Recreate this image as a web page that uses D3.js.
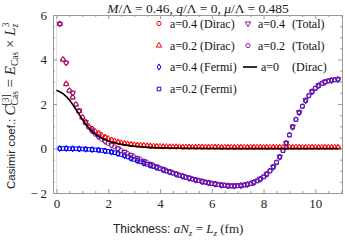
<!DOCTYPE html>
<html>
<head>
<meta charset="utf-8">
<script src="https://cdn.jsdelivr.net/npm/d3@7"></script>
<style>
  html, body { margin: 0; padding: 0; background: #fff; }
  svg text { font-family: "Liberation Serif", "Times New Roman", serif; }
</style>
</head>
<body>
<svg id="chart" width="345" height="241"></svg>
<script>
// thickness grid (fm): a=0.2 series use every point, a=0.4 series every other one
const xFine = [0.125,0.25,0.375,0.5,0.625,0.75,0.875,1,1.125,1.25,1.375,1.5,1.625,1.75,1.875,2,
  2.125,2.25,2.375,2.5,2.625,2.75,2.875,3,3.125,3.25,3.375,3.5,3.625,3.75,3.875,4,
  4.125,4.25,4.375,4.5,4.625,4.75,4.875,5,5.125,5.25,5.375,5.5,5.625,5.75,5.875,6,
  6.125,6.25,6.375,6.5,6.625,6.75,6.875,7,7.125,7.25,7.375,7.5,7.625,7.75,7.875,8,
  8.125,8.25,8.375,8.5,8.625,8.75,8.875,9,9.125,9.25,9.375,9.5,9.625,9.75,9.875,10,
  10.125,10.25,10.375,10.5,10.625,10.75,10.875];
const xCoarse = [0.125,0.375,0.625,0.875,1.125,1.375,1.625,1.875,2.125,2.375,2.625,2.875,
  3.125,3.375,3.625,3.875,4.125,4.375,4.625,4.875,5.125,5.375,5.625,5.875,6.125,6.375,
  6.625,6.875,7.125,7.375,7.625,7.875,8.125,8.375,8.625,8.875,9.125,9.375,9.625,9.875,
  10.125,10.375,10.625,10.875];

const diracA04 = [5.6,3.85,2.5,1.7,1.2,0.9,0.7,0.51,0.38,0.29,0.22,0.18,0.15,0.13,0.11,0.09,
  0.08,0.07,0.07,0.06,0.06,0.06,0.06,0.06,0.06,0.05,0.05,0.05,0.05,0.05,0.05,0.05,0.05,0.05,
  0.05,0.05,0.05,0.05,0.05,0.05,0.05,0.05,0.05,0.05];
const diracA02 = [5.6,4.0,2.9,2.6,2.3,1.98,1.68,1.4,1.17,0.99,
  0.86,0.76,0.67,0.59,0.51,0.44,0.38,0.33,0.29,0.25,
  0.22,0.2,0.18,0.16,0.15,0.14,0.13,0.12,0.11,0.1,
  0.09,0.09,0.08,0.08,0.07,0.07,0.07,0.07,0.06,0.06,
  0.06,0.06,0.06,0.06,0.06,0.06,0.06,0.06,0.06,0.06,
  0.05,0.05,0.05,0.05,0.05,0.05,0.05,0.05,0.05,0.05,
  0.05,0.05,0.05,0.05,0.05,0.05,0.05,0.05,0.05,0.05,
  0.05,0.05,0.05,0.05,0.05,0.05,0.05,0.05,0.05,0.05,
  0.05,0.05,0.05,0.05,0.05,0.05,0.05];
const fermiA04 = [0,0,-0.01,-0.02,-0.03,-0.05,-0.07,-0.11,-0.16,-0.23,
  -0.32,-0.44,-0.55,-0.66,-0.76,-0.86,-0.96,-1.06,-1.16,-1.25,
  -1.34,-1.42,-1.49,-1.55,-1.6,-1.65,-1.68,-1.69,-1.67,-1.62,
  -1.53,-1.38,-1.16,-0.84,-0.39,0.23,0.96,1.61,2.15,2.55,
  2.82,2.98,3.06,3.1];
const fermiA02 = [0,0,0,-0.01,-0.01,-0.01,-0.02,-0.02,-0.03,-0.04,
  -0.05,-0.06,-0.07,-0.09,-0.11,-0.13,-0.16,-0.19,-0.23,-0.27,
  -0.32,-0.38,-0.44,-0.49,-0.55,-0.6,-0.66,-0.71,-0.76,-0.81,
  -0.86,-0.91,-0.96,-1.02,-1.06,-1.11,-1.16,-1.21,-1.25,-1.3,
  -1.34,-1.38,-1.42,-1.45,-1.49,-1.52,-1.55,-1.58,-1.6,-1.63,
  -1.65,-1.66,-1.68,-1.69,-1.69,-1.68,-1.67,-1.65,-1.62,-1.58,
  -1.53,-1.46,-1.38,-1.28,-1.16,-1.01,-0.84,-0.63,-0.39,-0.1,
  0.23,0.6,0.96,1.3,1.61,1.89,2.15,2.37,2.55,2.7,
  2.82,2.91,2.98,3.03,3.06,3.08,3.1];
const totalA04 = [5.6,3.85,2.5,1.7,1.18,0.8,0.53,0.32,0.15,0.0,
  -0.16,-0.3,-0.44,-0.57,-0.7,-0.82,-0.93,-1.04,-1.14,-1.23,
  -1.32,-1.4,-1.47,-1.53,-1.58,-1.63,-1.66,-1.67,-1.65,-1.6,
  -1.51,-1.36,-1.14,-0.82,-0.37,0.25,0.98,1.63,2.17,2.57,
  2.84,3.0,3.08,3.12];
const totalA02 = [5.6,4.0,2.9,2.6,2.3,1.98,1.68,1.4,1.15,0.95,
  0.78,0.64,0.52,0.41,0.32,0.23,0.15,0.07,-0.01,-0.09,
  -0.16,-0.23,-0.3,-0.37,-0.44,-0.51,-0.57,-0.64,-0.7,-0.76,
  -0.82,-0.88,-0.93,-0.99,-1.04,-1.09,-1.14,-1.19,-1.23,-1.28,
  -1.32,-1.36,-1.4,-1.43,-1.47,-1.5,-1.53,-1.56,-1.58,-1.61,
  -1.63,-1.64,-1.66,-1.67,-1.67,-1.66,-1.65,-1.63,-1.6,-1.56,
  -1.51,-1.44,-1.36,-1.26,-1.14,-0.99,-0.82,-0.61,-0.37,-0.08,
  0.25,0.62,0.98,1.32,1.63,1.91,2.17,2.39,2.57,2.72,
  2.84,2.93,3.0,3.05,3.08,3.1,3.12];

// a=0 continuum Dirac curve
const lineX = [0,0.25,0.5,0.75,1,1.25,1.5,1.75,2,2.25,2.5,2.75,3,3.5,4,4.5,5,6,7,8,9,10,11];
const lineY = [2.62,2.47,2.18,1.76,1.3,0.92,0.64,0.46,0.34,0.26,0.19,0.14,0.1,0.05,0.03,0.02,0.01,0,0,0,0,0,0];

const xTicks = [0,2,4,6,8,10];
const yTicks = [-2,0,2,4,6];

const red = "#ff0000", blue = "#0000ff", purple = "#851a95";

const plotL = 53, plotR = 342, plotT = 15, plotB = 193;

const svg = d3.select("#chart");

const x = d3.scaleLinear().domain([-0.135, 11.03]).range([plotL, plotR]);
const y = d3.scaleLinear().domain([-2, 6]).range([plotB, plotT]);

// light axis line through the origin
svg.append("line").attr("x1", x(0)).attr("x2", x(0)).attr("y1", plotT).attr("y2", plotB)
  .attr("stroke", "#e2e2e2").attr("stroke-width", 1);

// series (dirac, fermi, total, then the continuum line on top)
const series = [
  { xs: xCoarse, ys: diracA04, color: red, shape: "circle" },
  { xs: xFine, ys: diracA02, color: red, shape: "triangle" },
  { xs: xCoarse, ys: fermiA04, color: blue, shape: "diamond" },
  { xs: xFine, ys: fermiA02, color: blue, shape: "square" },
  { xs: xCoarse, ys: totalA04, color: purple, shape: "down" },
  { xs: xFine, ys: totalA02, color: purple, shape: "circle" }
];

function symbolPath(shape) {
  if (shape === "circle") return d3.symbol(d3.symbolCircle, 14)();
  if (shape === "triangle" || shape === "down") return d3.symbol(d3.symbolTriangle, 13)();
  if (shape === "diamond") return d3.symbol(d3.symbolDiamond, 11)();
  return d3.symbol(d3.symbolSquare, 13)();
}

series.forEach(s => {
  const pts = s.xs.map((v, i) => [v, s.ys[i]]);
  svg.append("g").selectAll("path").data(pts).join("path")
    .attr("d", symbolPath(s.shape))
    .attr("transform", d => `translate(${x(d[0])},${y(d[1])})` + (s.shape === "down" ? " rotate(180)" : ""))
    .attr("fill", "none")
    .attr("stroke", s.color)
    .attr("stroke-width", 1);
});

const line = d3.line().x((d, i) => x(lineX[i])).y(d => y(d)).curve(d3.curveMonotoneX);
svg.append("path").datum(lineY).attr("d", line)
  .attr("fill", "none").attr("stroke", "#000").attr("stroke-width", 1.6);

// frame with inward ticks
const frameColor = "#999";
const fmt = d => d < 0 ? "\u2212\u2009" + Math.abs(d) : String(d);
const minorX = d3.range(0, 11.01, 0.5).filter(v => v % 2 !== 0);
const minorY = d3.range(-2, 6.01, 0.5).filter(v => v % 2 !== 0);

function styleAxis(g) {
  g.select(".domain").attr("stroke", frameColor);
  g.selectAll(".tick line").attr("stroke", frameColor);
  g.selectAll("text").attr("fill", "#222").attr("font-size", 13)
    .attr("font-family", "Liberation Serif, serif");
}

svg.append("g").attr("transform", `translate(0,${plotB})`)
  .call(d3.axisBottom(x).tickValues(xTicks).tickSize(-4).tickPadding(6).tickFormat(fmt)).call(styleAxis);
svg.append("g").attr("transform", `translate(0,${plotB})`)
  .call(d3.axisBottom(x).tickValues(minorX).tickSize(-2).tickFormat("")).call(styleAxis);
svg.append("g").attr("transform", `translate(0,${plotT})`)
  .call(d3.axisTop(x).tickValues(xTicks).tickSize(-4).tickFormat("")).call(styleAxis);
svg.append("g").attr("transform", `translate(0,${plotT})`)
  .call(d3.axisTop(x).tickValues(minorX).tickSize(-2).tickFormat("")).call(styleAxis);

svg.append("g").attr("transform", `translate(${plotL},0)`)
  .call(d3.axisLeft(y).tickValues(yTicks).tickSize(-4).tickPadding(6).tickFormat(fmt)).call(styleAxis);
svg.append("g").attr("transform", `translate(${plotL},0)`)
  .call(d3.axisLeft(y).tickValues(minorY).tickSize(-2).tickFormat("")).call(styleAxis);
svg.append("g").attr("transform", `translate(${plotR},0)`)
  .call(d3.axisRight(y).tickValues(yTicks).tickSize(-4).tickFormat("")).call(styleAxis);
svg.append("g").attr("transform", `translate(${plotR},0)`)
  .call(d3.axisRight(y).tickValues(minorY).tickSize(-2).tickFormat("")).call(styleAxis);

// rich text helper
const sans = "Liberation Sans, Arial, sans-serif";
function rich(t, parts) {
  parts.forEach(p => {
    const ts = t.append("tspan").text(p.t);
    if (p.i) ts.attr("font-style", "italic");
    if (p.sans) ts.attr("font-family", sans);
    if (p.fs) ts.attr("font-size", p.fs);
    if (p.dx) ts.attr("dx", p.dx);
    if (p.dy) ts.attr("dy", p.dy);
  });
  return t;
}

// title
rich(svg.append("text").attr("x", 198).attr("y", 12.5).attr("text-anchor", "middle")
  .attr("font-size", 13.5).attr("fill", "#222"), [
  { t: "M", i: 1 }, { t: "/\u039B = 0.46, " }, { t: "q", i: 1 }, { t: "/\u039B = 0, " },
  { t: "\u03BC", i: 1 }, { t: "/\u039B = 0.485" }
]);

// x label
rich(svg.append("text").attr("x", 113).attr("y", 233).attr("font-size", 13).attr("fill", "#222"), [
  { t: "Thickness: ", sans: 1, fs: 12 }, { t: "a", i: 1 }, { t: "N", i: 1 },
  { t: "z", i: 1, fs: 9, dy: 3 }, { t: " = ", dy: -3 }, { t: "L", i: 1 },
  { t: "z", i: 1, fs: 9, dy: 3 }, { t: " (fm)", dy: -3 }
]);

// y label
rich(svg.append("text").attr("transform", "translate(14.5,189) rotate(-90)")
  .attr("font-size", 15).attr("fill", "#222"), [
  { t: "Casimir coef.: ", sans: 1, fs: 11.5 }, { t: "C", i: 1 },
  { t: "[3]", fs: 9.5, dy: -6 }, { t: "Cas", fs: 9.5, dx: -11, dy: 9.5 },
  { t: " = ", dy: -3.5 }, { t: "E", i: 1 }, { t: "Cas", fs: 9.5, dy: 3.5 },
  { t: " \u00D7 ", dy: -3.5 }, { t: "L", i: 1 }, { t: "z", i: 1, fs: 9.5, dy: 3.5 },
  { t: "3", fs: 9.5, dx: -3.5, dy: -9.5 }
]);

// legend
const legendItems = [
  { col: 0, row: 0, shape: "circle", color: red, a: "a=0.4", b: "(Dirac)" },
  { col: 0, row: 1, shape: "triangle", color: red, a: "a=0.2", b: "(Dirac)" },
  { col: 0, row: 2, shape: "diamond", color: blue, a: "a=0.4", b: "(Fermi)" },
  { col: 0, row: 3, shape: "square", color: blue, a: "a=0.2", b: "(Fermi)" },
  { col: 1, row: 0, shape: "down", color: purple, a: "a=0.4", b: "(Total)" },
  { col: 1, row: 1, shape: "circle", color: purple, a: "a=0.2", b: "(Total)" },
  { col: 1, row: 2, shape: "line", color: "#000", a: "a=0", b: "(Dirac)" }
];
const rowY = [23.5, 45.5, 67, 89];
const colX = [159, 248];
const textA = [170, 258], textB = [200, 292];

const lg = svg.append("g");
legendItems.forEach(d => {
  const cy = rowY[d.row];
  if (d.shape === "line") {
    lg.append("line").attr("x1", colX[d.col] - 5).attr("x2", colX[d.col] + 9)
      .attr("y1", cy).attr("y2", cy).attr("stroke", "#000").attr("stroke-width", 1.6);
  } else {
    lg.append("path").attr("d", symbolPath(d.shape))
      .attr("transform", `translate(${colX[d.col]},${cy})` + (d.shape === "down" ? " rotate(180)" : ""))
      .attr("fill", "none").attr("stroke", d.color).attr("stroke-width", 1);
  }
  const ta = d.shape === "line" ? textA[d.col] + 3 : textA[d.col];
  lg.append("text").attr("x", ta).attr("y", cy + 4).attr("font-size", 12).attr("fill", "#111").text(d.a);
  lg.append("text").attr("x", textB[d.col]).attr("y", cy + 4).attr("font-size", 12).attr("fill", "#111").text(d.b);
});
</script>
</body>
</html>
